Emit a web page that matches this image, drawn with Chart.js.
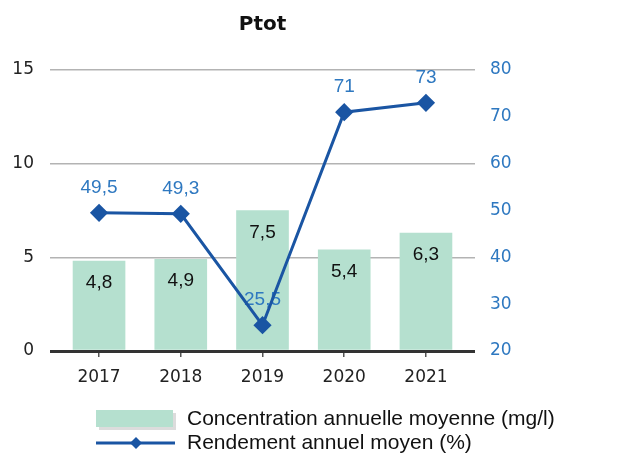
<!DOCTYPE html>
<html>
<head>
<meta charset="utf-8">
<script src="https://cdn.jsdelivr.net/npm/chart.js@4/dist/chart.umd.min.js"></script>
<style>
  body { margin: 0; background: #fff; }
  #box { width: 625px; height: 459px; }
</style>
</head>
<body>
<div id="box"><canvas id="grafica"></canvas></div>
<script>
var annees = [2017, 2018, 2019, 2020, 2021];
var concentration = [4.8, 4.9, 7.5, 5.4, 6.3];
var rendement = [49.5, 49.3, 25.5, 71, 73];
var ticksGauche = [0, 5, 10, 15];
var ticksDroite = [20, 30, 40, 50, 60, 70, 80];

var vert = '#b5e0cf';
var bleu = '#1a55a3';
var bleuTexte = '#2e78c0';

function virgule(v) {
    return String(v).replace('.', ',');
}

// etiquettes de valeur, dessinees avant la courbe pour qu'elle passe par-dessus
var etiquettes = {
    id: 'etiquettes',
    afterDatasetDraw: function (chart, args) {
        if (args.index !== 0) return;
        var ctx = chart.ctx;
        ctx.save();
        ctx.font = '19px "Liberation Sans", Arial, sans-serif';
        ctx.textAlign = 'center';
        ctx.textBaseline = 'middle';
        var barres = chart.getDatasetMeta(0).data;
        ctx.fillStyle = '#111';
        barres.forEach(function (b, i) {
            ctx.fillText(virgule(concentration[i]), b.x, b.y + 22);
        });
        var points = chart.getDatasetMeta(1).data;
        ctx.fillStyle = bleuTexte;
        points.forEach(function (p, i) {
            ctx.fillText(virgule(rendement[i]), p.x, p.y - 25);
        });
        ctx.restore();
    }
};

var legende = {
    id: 'legende',
    afterDraw: function (chart) {
        var ctx = chart.ctx;
        var ds = chart.data.datasets;
        ctx.save();
        // carre des barres avec son ombre
        ctx.fillStyle = '#dcdcdc';
        ctx.fillRect(99, 413, 77, 17);
        ctx.fillStyle = vert;
        ctx.fillRect(96, 410, 77, 17);
        // trait de la courbe
        ctx.strokeStyle = bleu;
        ctx.lineWidth = 3;
        ctx.beginPath();
        ctx.moveTo(96, 443);
        ctx.lineTo(175, 443);
        ctx.stroke();
        ctx.fillStyle = bleu;
        ctx.beginPath();
        ctx.moveTo(136, 437);
        ctx.lineTo(142, 443);
        ctx.lineTo(136, 449);
        ctx.lineTo(130, 443);
        ctx.closePath();
        ctx.fill();
        ctx.fillStyle = '#111';
        ctx.font = '21px "Liberation Sans", Arial, sans-serif';
        ctx.textAlign = 'left';
        ctx.textBaseline = 'middle';
        ctx.fillText(ds[0].label, 187, 419);
        ctx.fillText(ds[1].label, 187, 443);
        ctx.restore();
    }
};

var barres = {
    type: 'bar',
    label: 'Concentration annuelle moyenne (mg/l)',
    data: annees.map(function (a, i) { return { x: a, y: concentration[i] }; }),
    backgroundColor: vert,
    barThickness: 52,
    yAxisID: 'y',
    order: 1
};

var courbe = {
    type: 'line',
    label: 'Rendement annuel moyen (%)',
    data: annees.map(function (a, i) { return { x: a, y: rendement[i] }; }),
    borderColor: bleu,
    backgroundColor: bleu,
    borderWidth: 3,
    pointStyle: 'rectRot',
    pointRadius: 7,
    pointHoverRadius: 7,
    yAxisID: 'y1',
    order: 0
};

var config = {
    type: 'bar',
    data: { datasets: [barres, courbe] },
    options: {
        responsive: true,
        maintainAspectRatio: false,
        animation: false,
        layout: { padding: 0 },
        plugins: {
            legend: { display: false },
            tooltip: { enabled: false },
            title: {
                display: true,
                text: 'Ptot',
                fullSize: false,
                color: '#111',
                font: { family: '"DejaVu Sans", Verdana, sans-serif', size: 20, weight: 'bold' },
                padding: { top: 13, bottom: 33 }
            }
        },
        scales: {
            x: {
                type: 'linear',
                min: 2016.4,
                max: 2021.6,
                offset: false,
                afterBuildTicks: function (s) { s.ticks = annees.map(function (v) { return { value: v }; }); },
                afterFit: function (s) { s.height = 108; },
                border: { display: false },
                grid: { offset: false, drawOnChartArea: false, tickLength: 6, color: '#555', lineWidth: 1.5 },
                ticks: {
                    padding: 10,
                    color: '#222',
                    font: { family: '"DejaVu Sans", Verdana, sans-serif', size: 17 },
                    callback: function (v) { return String(v); }
                }
            },
            y: {
                position: 'left',
                min: 0,
                max: 15,
                afterBuildTicks: function (s) { s.ticks = ticksGauche.map(function (v) { return { value: v }; }); },
                afterFit: function (s) { s.width = 50; },
                border: { display: false },
                grid: {
                    drawTicks: false,
                    color: function (c) { return c.tick && c.tick.value === 0 ? '#333' : '#b3b3b3'; },
                    lineWidth: function (c) { return c.tick && c.tick.value === 0 ? 3 : 1.5; }
                },
                ticks: {
                    padding: 16,
                    color: '#222',
                    font: { family: '"DejaVu Sans", Verdana, sans-serif', size: 17 }
                }
            },
            y1: {
                position: 'right',
                min: 20,
                max: 80,
                afterBuildTicks: function (s) { s.ticks = ticksDroite.map(function (v) { return { value: v }; }); },
                afterFit: function (s) { s.width = 150; },
                border: { display: false },
                grid: { display: false, drawTicks: false },
                ticks: {
                    padding: 15,
                    color: bleuTexte,
                    font: { family: '"DejaVu Sans", Verdana, sans-serif', size: 17 }
                }
            }
        }
    },
    plugins: [etiquettes, legende]
};

var grafica = new Chart(document.getElementById('grafica'), config);
</script>
</body>
</html>
